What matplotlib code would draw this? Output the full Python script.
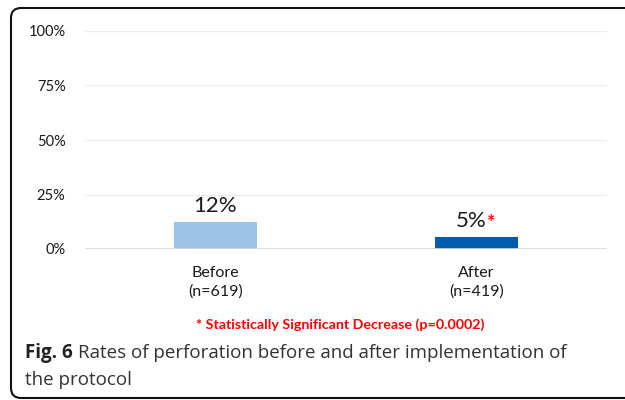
import matplotlib
matplotlib.use('Agg')
import matplotlib.pyplot as plt
from matplotlib.patches import FancyBboxPatch

# data
categories = ['Before\n(n=619)', 'After\n(n=419)']
rates = [12.4, 5.5]
value_labels = ['12%', '5%']
significant = [False, True]
yticks = [0, 25, 50, 75, 100]
colors = ['#9DC3E6', '#005BAA']

chart_font = 'Lato'
caption_font = 'Open Sans'

fig = plt.figure(figsize=(6.25, 4.0), dpi=100)
ax = fig.add_axes([0.136, 0.3775, 0.835, 0.545])

x = list(range(len(categories)))
bars = ax.bar(x, rates, width=0.315, color=colors, zorder=3)

ax.set_xlim(-0.5, 1.5)
ax.set_ylim(0, 100)
ax.set_yticks(yticks)
ax.set_yticklabels([f'{t}%' for t in yticks], fontsize=10.5, family=chart_font, color='#1a1a1a')
ax.set_xticks(x)
ax.set_xticklabels(categories, fontsize=11.5, family=chart_font, color='#1a1a1a', linespacing=1.45)
ax.tick_params(length=0, pad=14, axis='y')
ax.tick_params(length=0, pad=12, axis='x')
for s in ax.spines.values():
    s.set_visible(False)
ax.grid(axis='y', color='#EDEDED', linewidth=1, zorder=0)
ax.axhline(0, color='#D9D9D9', linewidth=1.2, zorder=4)

# value labels above bars
for b, lab, sig in zip(bars, value_labels, significant):
    cx = b.get_x() + b.get_width() / 2
    top = b.get_height()
    if sig:
        t = ax.annotate(lab, (cx, top), xytext=(-4, 4), textcoords='offset points',
                        ha='center', va='bottom', fontsize=16, family=chart_font, color='#1a1a1a')
        ax.annotate('*', xy=(1, 1), xycoords=t, xytext=(0.5, -2), textcoords='offset points',
                    ha='left', va='top', fontsize=14, family=chart_font,
                    color='#FF0000', fontweight='bold')
    else:
        ax.annotate(lab, (cx, top), xytext=(0, 4), textcoords='offset points',
                    ha='center', va='bottom', fontsize=16, family=chart_font, color='#1a1a1a')

# footnote
fig.text(340 / 625, 1 - 325 / 400, '* Statistically Significant Decrease (p=0.0002)',
         ha='center', va='center', fontsize=10.3, family=chart_font,
         color='#FF0000', fontweight='bold')

# caption
fig_lab = fig.text(25 / 625, 1 - 353 / 400, 'Fig. 6', ha='left', va='center', fontsize=13.5,
                   family=caption_font, fontweight='bold', color='#222222')
ax.annotate('Rates of perforation before and after implementation of', xy=(1, 0.5),
            xycoords=fig_lab, xytext=(4, 0), textcoords='offset points',
            ha='left', va='center', fontsize=13.5, family=caption_font, color='#333333',
            annotation_clip=False)
fig.text(25 / 625, 1 - 380 / 400, 'the protocol', ha='left', va='center', fontsize=13.5,
         family=caption_font, color='#333333')

# rounded frame
frame = FancyBboxPatch((0.11, 0.02), 6.6, 3.9, boxstyle='round,pad=0,rounding_size=0.1',
                       transform=fig.dpi_scale_trans, facecolor='none',
                       edgecolor='#111111', linewidth=1.5)
fig.patches.append(frame)

fig.savefig('out.png', dpi=100)
